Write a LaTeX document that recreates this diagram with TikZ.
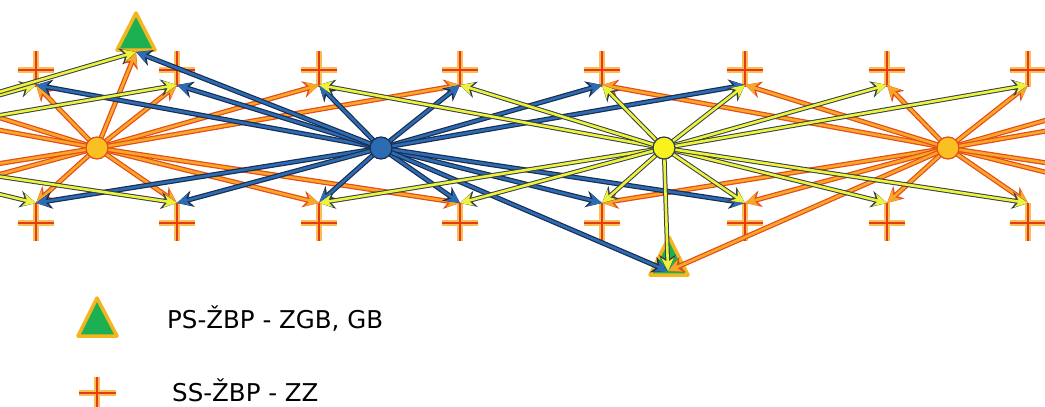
\documentclass[tikz,border=0pt]{standalone}
\usepackage{fontspec}
\setmainfont{DejaVu Sans}
\usetikzlibrary{arrows.meta}
\begin{document}
\begin{tikzpicture}[
            x=1pt, y=-1pt,
            font=\fontsize{24.5}{28}\selectfont,
            arrowline/.style={line width=2.6pt, -{Stealth[length=13pt,width=12.5pt,inset=4pt]}},
            oedge/.style={arrowline, draw=oin, preaction={draw=oout, line width=5pt, -{Stealth[length=16pt,width=16.5pt,inset=5pt]}}},
            yedge/.style={arrowline, draw=yin, preaction={draw=yout, line width=4.6pt, -{Stealth[length=16pt,width=16.5pt,inset=5pt]}}},
            bedge/.style={arrowline, draw=bin, preaction={draw=bout, line width=5pt, -{Stealth[length=16pt,width=16.5pt,inset=5pt]}}},
            hub/.style={circle, inner sep=0pt, minimum size=22pt, line width=1.2pt},
            ohub/.style={hub, fill=ohubfill, draw=oout},
            yhub/.style={hub, fill=yhubfill, draw=yout},
            bhub/.style={hub, fill=bin, draw=bout},
            zzmark/.style={draw=crossred, line width=2.4pt, preaction={draw=crossglow, line width=5.5pt}},
            zgbmark/.style={fill=trigreen, draw=triorange, line width=3.5pt, line join=round},
            legendtext/.style={anchor=base west, inner sep=0pt}
        ]
		\definecolor{oin}{RGB}{248,168,40}
		\definecolor{oout}{RGB}{230,74,25}
		\definecolor{yin}{RGB}{238,242,60}
		\definecolor{yout}{RGB}{50,64,70}
		\definecolor{bin}{RGB}{43,108,181}
		\definecolor{bout}{RGB}{27,45,78}
		\definecolor{ohubfill}{RGB}{250,192,34}
		\definecolor{yhubfill}{RGB}{248,242,30}
		\definecolor{crossglow}{RGB}{248,190,80}
		\definecolor{crossred}{RGB}{232,56,28}
		\definecolor{trigreen}{RGB}{29,176,82}
		\definecolor{triorange}{RGB}{245,181,30}
		
		\useasboundingbox (0,0) rectangle (1045,407);
		\clip (0,0) rectangle (1045,407);
		
		%Hubs
		\coordinate (hy0) at (-192,148);
		\coordinate (ho1) at (97,148);
		\coordinate (hb1) at (381,148);
		\coordinate (hy1) at (664,148);
		\coordinate (ho2) at (948,148);
		
		%ZZ crosses
		\foreach \x [count=\i] in {36,177,319,460,602,745,887,1028}{
			\coordinate (t\i) at (\x,85);
			\coordinate (b\i) at (\x,203);
			\draw[zzmark] (\x,51) -- (\x,87) (\x-18,70) -- (\x+18,70);
			\draw[zzmark] (\x,203) -- (\x,241) (\x-18,223) -- (\x+18,223);
		}
		\coordinate (tl1) at (-106,85);
		\coordinate (tl2) at (-248,85);
		\coordinate (bl1) at (-106,203);
		\coordinate (bl2) at (-248,203);
		\coordinate (tr1) at (1170,85);
		\coordinate (tr2) at (1312,85);
		\coordinate (br1) at (1170,203);
		\coordinate (br2) at (1312,203);
		
		%ZGB triangles
		\draw[zgbmark] (136,13) -- (155,50) -- (117,50) -- cycle;
		\coordinate (ps1) at (136,52);
		\draw[zgbmark] (669,237) -- (688,275) -- (650,275) -- cycle;
		\coordinate (ps2) at (668,271);
		
		%Links
		\foreach \e in {tl1,tl2,bl1,bl2,t1,t2,t3,t4,b1,b2,b3,b4,ps1}
			\draw[oedge] (ho1) -- (\e);
		\foreach \e in {tr1,tr2,br1,br2,t5,t6,t7,t8,b5,b6,b7,b8,ps2}
			\draw[oedge] (ho2) -- (\e);
		\foreach \e in {t1,t2,t3,t4,t5,t6,b1,b2,b3,b4,b5,b6,ps1,ps2}
			\draw[bedge] (hb1) -- (\e);
		\foreach \e in {t1,t2,b1,b2,ps1}
			\draw[yedge] (hy0) -- (\e);
		\foreach \e in {t3,t4,t5,t6,t7,t8,b3,b4,b5,b6,b7,b8,ps2}
			\draw[yedge] (hy1) -- (\e);
		
		\node[ohub] (olhub) at (ho1) {};
		\node[bhub] (blhub) at (hb1) {};
		\node[yhub] (ylhub) at (hy1) {};
		\node[ohub] (orhub) at (ho2) {};
		
		%Legend
		\draw[zgbmark] (97,298) -- (117,336) -- (78,336) -- cycle;
		\node[legendtext] (pslabel) at (167,328) {PS-ŽBP - ZGB, GB};
		\draw[zzmark] (97,377) -- (97,415) (79,393) -- (116,393);
		\node[legendtext] (sslabel) at (172,401) {SS-ŽBP - ZZ};
    \end{tikzpicture}
\end{document}
